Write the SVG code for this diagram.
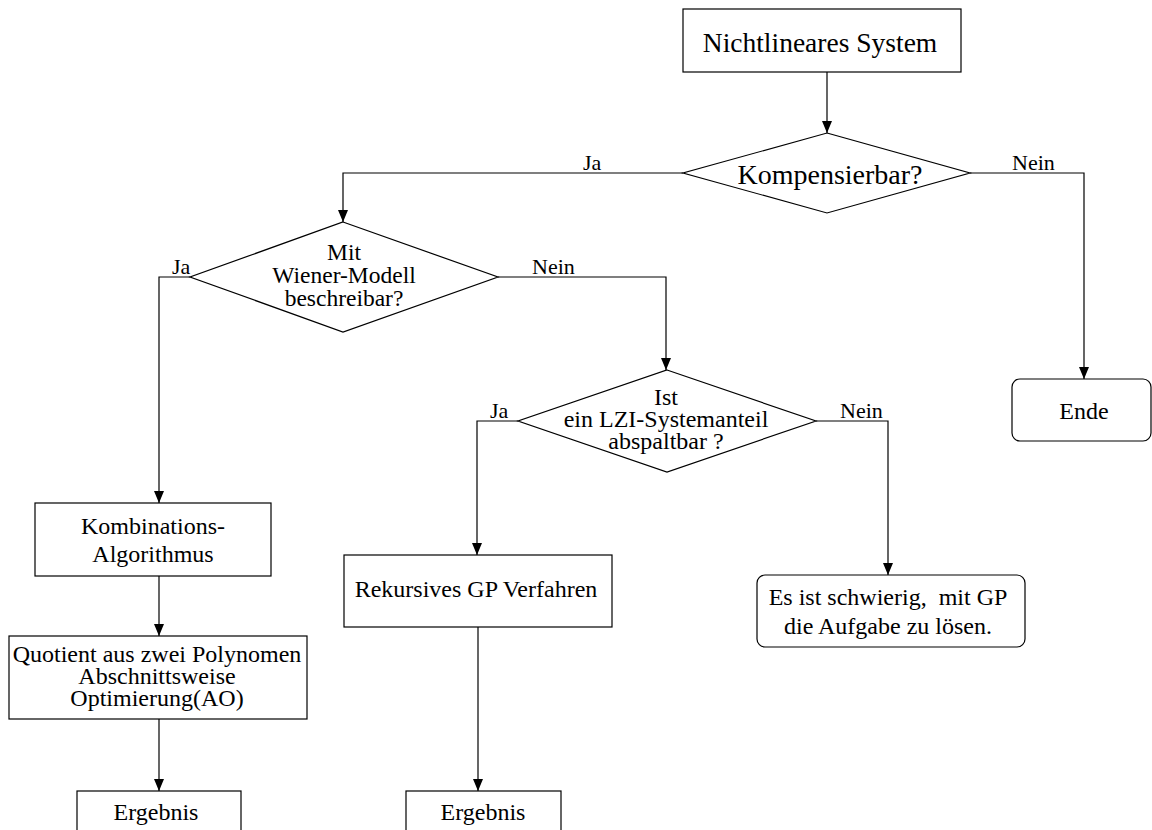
<svg xmlns="http://www.w3.org/2000/svg" width="1152" height="830" viewBox="0 0 1152 830">
  <style>
    .box { fill: #fff; stroke: #000; stroke-width: 1.2; }
    .edge { fill: none; stroke: #000; stroke-width: 1.2; }
    text { font-family: "Liberation Serif", "Times New Roman", serif; fill: #000; }
    .t { font-size: 24px; text-anchor: middle; }
    .lbl { font-size: 22px; }
  </style>
  <defs>
    <marker id="arrow" viewBox="0 0 12 10" refX="12" refY="5" markerWidth="12" markerHeight="10" markerUnits="userSpaceOnUse" orient="auto">
      <path d="M0,0 L12,5 L0,10 Z" fill="#000"/>
    </marker>
  </defs>
  <rect width="1152" height="830" fill="#fff"/>

  <!-- connectors -->
  <g id="connectors">
    <path class="edge" d="M827,72 V133" marker-end="url(#arrow)"/>
    <path class="edge" d="M683,173 H343 V222" marker-end="url(#arrow)"/>
    <path class="edge" d="M970,173 H1084 V379" marker-end="url(#arrow)"/>
    <path class="edge" d="M190,277 H159 V503" marker-end="url(#arrow)"/>
    <path class="edge" d="M498,277 H666 V370" marker-end="url(#arrow)"/>
    <path class="edge" d="M518,421 H477 V555" marker-end="url(#arrow)"/>
    <path class="edge" d="M816,421 H888 V575" marker-end="url(#arrow)"/>
    <path class="edge" d="M159,576 V636" marker-end="url(#arrow)"/>
    <path class="edge" d="M159,719 V791" marker-end="url(#arrow)"/>
    <path class="edge" d="M478,627 V791" marker-end="url(#arrow)"/>
    <text class="lbl" x="583" y="170">Ja</text>
    <text class="lbl" x="1012" y="170">Nein</text>
    <text class="lbl" x="172" y="274">Ja</text>
    <text class="lbl" x="532" y="274">Nein</text>
    <text class="lbl" x="490" y="418">Ja</text>
    <text class="lbl" x="840" y="418">Nein</text>
  </g>

  <!-- start -->
  <g id="start">
    <rect class="box" x="683" y="9" width="278" height="63"/>
    <text class="t" x="820" y="52" style="font-size:27.5px">Nichtlineares System</text>
  </g>

  <!-- decisions -->
  <g id="kompensierbar">
    <polygon class="box" points="827,133 970,173 827,213 683,173"/>
    <text class="t" x="830" y="184" style="font-size:28px">Kompensierbar?</text>
  </g>

  <g id="wiener">
    <polygon class="box" points="343,222 498,277 343,332 190,277"/>
    <text class="t" x="344" y="260" style="font-size:23.5px">Mit</text>
    <text class="t" x="344" y="283" style="font-size:23.5px">Wiener-Modell</text>
    <text class="t" x="344" y="306" style="font-size:23.5px">beschreibar?</text>
  </g>

  <g id="lzi">
    <polygon class="box" points="667,370 816,421 667,472 518,421"/>
    <text class="t" x="666" y="405">Ist</text>
    <text class="t" x="666" y="427">ein LZI-Systemanteil</text>
    <text class="t" x="666" y="449">abspaltbar ?</text>
  </g>

  <!-- terminals -->
  <g id="ende">
    <rect class="box" x="1012" y="379" width="139" height="62" rx="8"/>
    <text class="t" x="1084" y="419">Ende</text>
  </g>

  <g id="schwierig">
    <rect class="box" x="757" y="575" width="268" height="72" rx="8"/>
    <text class="t" x="888" y="605" xml:space="preserve">Es ist schwierig,  mit GP</text>
    <text class="t" x="888" y="634">die Aufgabe zu lösen.</text>
  </g>

  <!-- left branch -->
  <g id="kombination">
    <rect class="box" x="35" y="503" width="236" height="73"/>
    <text class="t" x="153" y="534">Kombinations-</text>
    <text class="t" x="153" y="562">Algorithmus</text>
  </g>

  <g id="quotient">
    <rect class="box" x="9" y="636" width="298" height="83"/>
    <text class="t" x="157" y="662">Quotient aus zwei Polynomen</text>
    <text class="t" x="157" y="684">Abschnittsweise</text>
    <text class="t" x="157" y="706">Optimierung(AO)</text>
  </g>

  <g id="ergebnis1">
    <rect class="box" x="77" y="791" width="164" height="50"/>
    <text class="t" x="156" y="820">Ergebnis</text>
  </g>

  <!-- middle branch -->
  <g id="rekursiv">
    <rect class="box" x="344" y="555" width="268" height="72"/>
    <text class="t" x="476" y="597">Rekursives GP Verfahren</text>
  </g>

  <g id="ergebnis2">
    <rect class="box" x="406" y="791" width="155" height="50"/>
    <text class="t" x="483" y="820">Ergebnis</text>
  </g>
</svg>
